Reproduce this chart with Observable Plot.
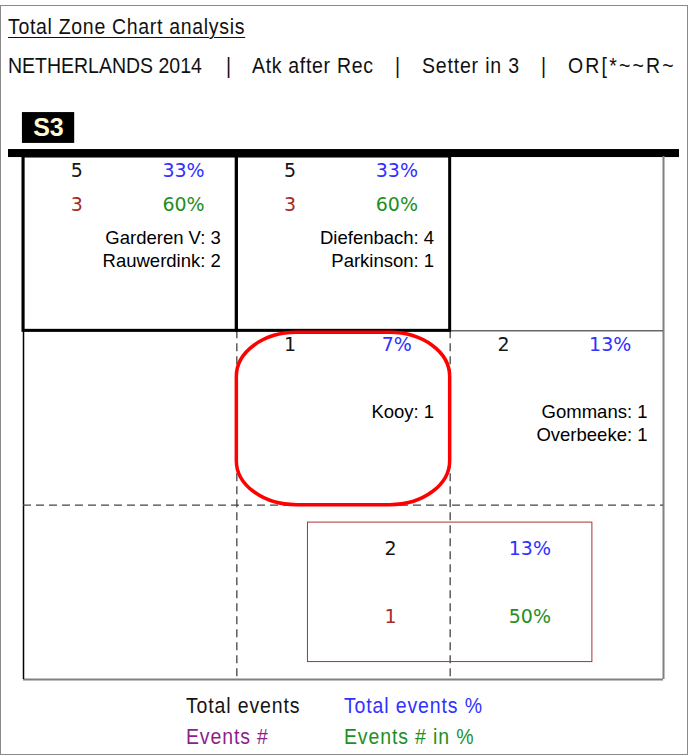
<!DOCTYPE html>
<html>
<head>
<meta charset="utf-8">
<script src="https://cdn.jsdelivr.net/npm/d3@7"></script>
<script src="https://cdn.jsdelivr.net/npm/@observablehq/plot@0.6"></script>
<style>
  body { margin: 0; background: #fff; }
  #page { position: relative; width: 688px; height: 756px; overflow: hidden; background: #fff; }
  #frame { position: absolute; left: 0; top: 5px; width: 686px; height: 748px; border: 1px solid #8a8a8a; }
  .narrow { position: absolute; font-family: "Liberation Sans", Arial, sans-serif; font-size: 22.5px; line-height: 24px; white-space: pre; color: #111; transform: scaleX(0.866); transform-origin: 0 0; }
  #title { left: 8px; top: 15px; text-decoration: underline; text-underline-offset: 3px; text-decoration-thickness: 1px; letter-spacing: 0.8px; }
  #chart { position: absolute; left: 0; top: 100px; }
</style>
</head>
<body>
<div id="page">
  <div id="frame"></div>
  <div id="title" class="narrow"></div>
  <div id="subtitle"></div>
  <div id="chart"></div>
  <div id="legend"></div>
</div>
<script>
// ---------- data ----------
const titleText = "Total Zone Chart analysis";
const subtitleParts = ["NETHERLANDS 2014", "|", "Atk after Rec", "|", "Setter in 3", "|", "OR[*~~R~"];
const rotationLabel = "S3";

// zones (column, row) of the 3x3 half-court grid that carry data
const zoneCols = [0, 1, 1, 2];
const zoneRows = [0, 0, 1, 1];
const totalEvents = [5, 5, 1, 2];
const totalEventsPct = ["33%", "33%", "7%", "13%"];
const eventsCount = [3, 3, null, null];
const eventsPct = ["60%", "60%", null, null];
const zonePlayers = [
  ["Garderen V: 3", "Rauwerdink: 2"],
  ["Diefenbach: 4", "Parkinson: 1"],
  ["Kooy: 1"],
  ["Gommans: 1", "Overbeeke: 1"]
];
const highlightedZones = [[0, 0], [1, 0]];   // zones outlined in bold
const selectedZone = [1, 1];                   // zone circled in red

// summary box
const summaryTotal = 2;
const summaryTotalPct = "13%";
const summaryEvents = 1;
const summaryEventsPct = "50%";

// legend
const legendLabels = ["Total events", "Total events %", "Events #", "Events # in %"];

// ---------- styles ----------
const C = { total: "#151515", totalPct: "#3131ff", events: "#a52a2a", eventsPct: "#1f8f1f", legendEvents: "#8c1f8c", red: "#ff0000", gray: "#808080" };
const numFont = "DejaVu Sans, sans-serif";
const nameFont = "Liberation Sans, Arial, sans-serif";

// ---------- header / legend HTML ----------
document.getElementById("title").textContent = titleText;
const subX = [8, 226, 252, 395, 422, 541, 568];
const subSpacing = [0, 0, 0.8, 0, 0.95, 0, 2.5];
const sub = document.getElementById("subtitle");
subtitleParts.forEach((t, i) => {
  const s = document.createElement("div");
  s.className = "narrow";
  s.style.left = subX[i] + "px";
  s.style.top = "54px";
  s.style.letterSpacing = subSpacing[i] + "px";
  s.textContent = t;
  sub.appendChild(s);
});
const leg = document.getElementById("legend");
const legPos = [[186, 694, C.total], [344, 694, C.totalPct], [186, 725, C.legendEvents], [344, 725, C.eventsPct]];
legendLabels.forEach((t, i) => {
  const s = document.createElement("div");
  s.className = "narrow";
  s.style.left = legPos[i][0] + "px";
  s.style.top = legPos[i][1] + "px";
  s.style.color = legPos[i][2];
  s.style.letterSpacing = "1px";
  s.textContent = t;
  leg.appendChild(s);
});

// ---------- chart ----------
const zones = zoneCols.map((c, i) => ({
  col: c, row: zoneRows[i], total: totalEvents[i], totalPct: totalEventsPct[i],
  events: eventsCount[i], eventsPct: eventsPct[i], players: zonePlayers[i].join("\n")
}));
const eventZones = zones.filter(d => d.events != null);
const hl = highlightedZones.map(([c, r]) => ({ col: c, row: r }));
const sel = [{ col: selectedZone[0], row: selectedZone[1] }];

const box = { x1: 1 + 1 / 3, x2: 2 + 2 / 3, y1: 2.1, y2: 2.9 };
const summary = [
  { x: box.x1 + 0.29 * (box.x2 - box.x1), y: box.y1 + 0.186 * (box.y2 - box.y1), t: String(summaryTotal), c: C.total },
  { x: box.x1 + 0.78 * (box.x2 - box.x1), y: box.y1 + 0.186 * (box.y2 - box.y1), t: summaryTotalPct, c: C.totalPct },
  { x: box.x1 + 0.29 * (box.x2 - box.x1), y: box.y1 + 0.674 * (box.y2 - box.y1), t: String(summaryEvents), c: C.events },
  { x: box.x1 + 0.78 * (box.x2 - box.x1), y: box.y1 + 0.674 * (box.y2 - box.y1), t: summaryEventsPct, c: C.eventsPct }
];

const numSize = 19;
const chart = Plot.plot({
  width: 688,
  height: 590,
  margin: 0,
  x: { type: "linear", domain: [0, 3], range: [23, 663], axis: null },
  y: { type: "linear", domain: [0, 3], range: [56, 579], axis: null },
  style: { background: "transparent", overflow: "visible" },
  marks: [
    // rotation badge
    Plot.rect([rotationLabel], { x1: -0.005, x2: 0.24, y1: -0.252, y2: -0.075, fill: "#000" }),
    Plot.text([rotationLabel], { x: 0.117, y: -0.163, text: d => d, fill: "#fff8d0", fontSize: 25, fontWeight: "bold", fontFamily: nameFont, textAnchor: "middle" }),
    // thick net line
    Plot.rect([0], { x1: -0.0703, x2: 3.075, y1: -0.040, y2: 0.006, fill: "#000" }),
    // court outline
    Plot.ruleX([3], { y1: 0, y2: 3, stroke: C.gray, strokeWidth: 2 }),
    Plot.ruleY([3], { x1: 0, x2: 3, stroke: C.gray, strokeWidth: 2 }),
    Plot.ruleY([1], { x1: 0, x2: 3, stroke: "#666", strokeWidth: 1.5 }),
    Plot.ruleX([0], { y1: 0, y2: 3, stroke: "#000", strokeWidth: 1.5 }),
    // dashed zone separators
    Plot.ruleX([1, 2], { y1: 1, y2: 3, stroke: "#444", strokeWidth: 1.3, strokeDasharray: "8,5" }),
    Plot.ruleY([2], { x1: 0, x2: 3, stroke: "#444", strokeWidth: 1.3, strokeDasharray: "8,5" }),
    // bold outlined zones
    Plot.rect(hl, { x1: "col", x2: d => d.col + 1, y1: "row", y2: d => d.row + 1, stroke: "#000", strokeWidth: 3, fill: "none" }),
    // selected zone
    Plot.rect(sel, { x1: "col", x2: d => d.col + 1, y1: "row", y2: d => d.row + 1, insetTop: 2, insetLeft: 0, insetRight: 0, insetBottom: 0, rx: 60, ry: 44, stroke: C.red, strokeWidth: 3.5, fill: "none" }),
    // summary box
    Plot.rect([box], { x1: "x1", x2: "x2", y1: "y1", y2: "y2", stroke: "#a83232", strokeWidth: 1, fill: "none" }),
    // zone numbers
    Plot.text(zones, { x: d => d.col + 0.25, y: d => d.row + 0.08, text: d => String(d.total), fill: C.total, fontSize: numSize, fontFamily: numFont, textAnchor: "middle" }),
    Plot.text(zones, { x: d => d.col + 0.75, y: d => d.row + 0.08, text: "totalPct", fill: C.totalPct, fontSize: numSize, fontFamily: numFont, textAnchor: "middle" }),
    Plot.text(eventZones, { x: d => d.col + 0.25, y: d => d.row + 0.275, text: d => String(d.events), fill: C.events, fontSize: numSize, fontFamily: numFont, textAnchor: "middle" }),
    Plot.text(eventZones, { x: d => d.col + 0.75, y: d => d.row + 0.275, text: "eventsPct", fill: C.eventsPct, fontSize: numSize, fontFamily: numFont, textAnchor: "middle" }),
    // players
    Plot.text(zones, { x: d => d.col + 1, y: d => d.row + 0.41, dx: -16, text: "players", fill: "#000", fontSize: 18.5, fontFamily: nameFont, textAnchor: "end", lineAnchor: "top", lineHeight: 1.22 }),
    // summary
    Plot.text(summary, { x: "x", y: "y", text: "t", fill: "c", fontSize: numSize, fontFamily: numFont, textAnchor: "middle" })
  ]
});
document.getElementById("chart").appendChild(chart);
</script>
</body>
</html>
